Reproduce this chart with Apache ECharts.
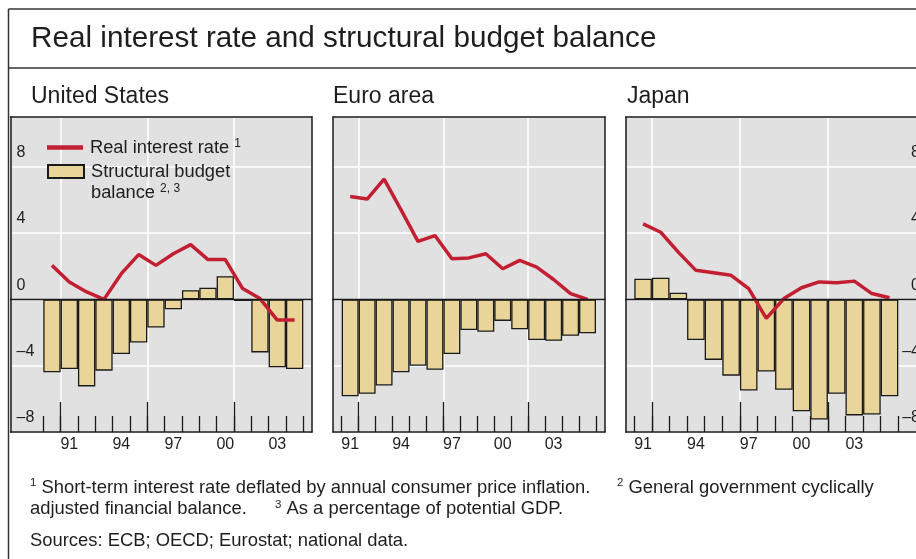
<!DOCTYPE html>
<html>
<head>
<meta charset="utf-8">
<script src="https://cdn.jsdelivr.net/npm/echarts@6/dist/echarts.min.js"></script>
<style>
html,body{margin:0;padding:0;background:#fff;}
#c{width:916px;height:559px;}
</style>
</head>
<body>
<div id="c"></div>
<script>
// ---------- data ----------
const usYears   = [1990,1991,1992,1993,1994,1995,1996,1997,1998,1999,2000,2001,2002,2003,2004];
const usBudget  = [-4.4,-4.2,-5.25,-4.3,-3.3,-2.6,-1.7,-0.6,0.55,0.7,1.4,-0.1,-3.2,-4.1,-4.2];
const usRate    = [2.05,1.05,0.45,0.0,1.55,2.7,2.05,2.75,3.3,2.4,2.4,0.65,0.05,-1.25,-1.25];

const euYears   = [1991,1992,1993,1994,1995,1996,1997,1998,1999,2000,2001,2002,2003,2004,2005];
const euBudget  = [-5.85,-5.7,-5.2,-4.4,-4.0,-4.25,-3.3,-1.85,-1.95,-1.3,-1.8,-2.45,-2.5,-2.2,-2.05];
const euRate    = [6.2,6.05,7.25,5.4,3.5,3.85,2.45,2.5,2.75,1.85,2.35,1.95,1.2,0.35,0.0];

const jpYears   = [1991,1992,1993,1994,1995,1996,1997,1998,1999,2000,2001,2002,2003,2004,2005];
const jpBudget  = [1.25,1.3,0.4,-2.45,-3.65,-4.6,-5.5,-4.35,-5.45,-6.75,-7.25,-5.7,-7.0,-6.95,-5.85];
const jpRate    = [4.55,4.05,2.85,1.75,1.6,1.45,0.65,-1.15,0.05,0.7,1.05,1.0,1.1,0.35,0.1];

const xLabelYears = [1991,1994,1997,2000,2003];
const yTickValues = [-8,-4,0,4,8];
const yMin = -8, yMax = 11;

const seriesNames = ['Real interest rate', 'Structural budget balance'];
const panelTitles = ['United States', 'Euro area', 'Japan'];

// ---------- layout / style ----------
const FONT = 'Liberation Sans, Arial, Helvetica, sans-serif';
const TXT = '#1e1e1e';
const BG = '#e1e1e1';
const BAR = '#e9d49a';
const RED = '#c21f32';
const INK = '#1a1a1a';
const W = 916, H = 559, plotTop = 117, plotBottom = 432;
const majorFrom = 1, majorStep = 5, majorCount = 2; // long ticks/gridlines at band boundaries 1, 6, 11

const panels = [
  {years: usYears, budget: usBudget, rate: usRate, plotL: 10.5, plotR: 312, dataL: 43.3, dataR: 303.3, labels: 'left',  titleX: 31},
  {years: euYears, budget: euBudget, rate: euRate, plotL: 333,  plotR: 605, dataL: 341.7, dataR: 596,  labels: null,    titleX: 333},
  {years: jpYears, budget: jpBudget, rate: jpRate, plotL: 625.7, plotR: 926, dataL: 634.3, dataR: 898.3, labels: 'right', titleX: 627}
];

const grid = [], xAxis = [], yAxis = [], series = [];
const fmtY = v => yTickValues.indexOf(v) >= 0 ? (v < 0 ? '\u2013' + (-v) : String(v)) : '';
const hidden = () => ({axisLine: {show: false, onZero: false}, axisTick: {show: false}, axisLabel: {show: false}, splitLine: {show: false}});
const vBox = {top: plotTop, height: plotBottom - plotTop, outerBoundsMode: 'none', containLabel: false};

panels.forEach((p, i) => {
  const band = (p.dataR - p.dataL) / p.years.length;

  // frame grid
  const fg = grid.length;
  grid.push(Object.assign({left: p.plotL, width: p.plotR - p.plotL, show: true, backgroundColor: BG, borderWidth: 0}, vBox));
  // major-grid grid (spans from first to last major boundary)
  const mg = grid.length;
  grid.push(Object.assign({left: p.dataL + majorFrom * band, width: majorStep * majorCount * band, show: false}, vBox));
  // data grid
  const dg = grid.length;
  grid.push(Object.assign({left: p.dataL, width: p.dataR - p.dataL, show: false}, vBox));

  // vertical white gridlines
  xAxis.push(Object.assign(hidden(), {type: 'value', gridIndex: mg, position: 'bottom', min: 0, max: majorStep * majorCount, interval: majorStep, z: 0,
    splitLine: {show: true, showMinLine: true, showMaxLine: true, lineStyle: {color: '#ffffff', width: 1.5}}}));
  // long ticks
  xAxis.push(Object.assign(hidden(), {type: 'value', gridIndex: mg, position: 'bottom', min: 0, max: majorStep * majorCount, interval: majorStep, z: 1,
    axisTick: {show: true, inside: true, length: 30, lineStyle: {color: INK, width: 1.3}}}));
  yAxis.push({type: 'value', gridIndex: mg, min: yMin, max: yMax, show: false});

  // zero line
  xAxis.push(Object.assign(hidden(), {type: 'value', gridIndex: fg, position: 'bottom', min: 0, max: 1, z: 4,
    axisLine: {show: true, onZero: true, lineStyle: {color: INK, width: 1.3}}}));
  // frame top & bottom
  xAxis.push(Object.assign(hidden(), {type: 'value', gridIndex: fg, position: 'top', min: 0, max: 1, z: 5,
    axisLine: {show: true, onZero: false, lineStyle: {color: INK, width: 1.5}}}));
  xAxis.push(Object.assign(hidden(), {type: 'value', gridIndex: fg, position: 'bottom', min: 0, max: 1, z: 5,
    axisLine: {show: true, onZero: false, lineStyle: {color: INK, width: 1.5}}}));

  // horizontal gridlines + labels
  yAxis.push(Object.assign(hidden(), {type: 'value', gridIndex: fg, position: p.labels === 'right' ? 'right' : 'left',
    min: yMin, max: yMax, interval: 4, z: 0,
    splitLine: {show: true, lineStyle: {color: '#ffffff', width: 1.5}},
    axisLabel: {show: !!p.labels, inside: true, margin: 6, formatter: fmtY, color: TXT, fontFamily: FONT, fontSize: 16,
      lineHeight: 16, verticalAlign: 'bottom', padding: [0, 0, 6, 0]}}));
  // frame left & right
  yAxis.push(Object.assign(hidden(), {type: 'value', gridIndex: fg, position: 'left', min: yMin, max: yMax, z: 5,
    axisLine: {show: true, onZero: false, lineStyle: {color: INK, width: 1.5}}}));
  yAxis.push(Object.assign(hidden(), {type: 'value', gridIndex: fg, position: 'right', min: yMin, max: yMax, z: 5,
    axisLine: {show: true, onZero: false, lineStyle: {color: INK, width: 1.5}}}));

  // data axes
  const dx = xAxis.length;
  xAxis.push({type: 'category', gridIndex: dg, data: p.years, boundaryGap: true, z: 1, position: 'bottom',
    axisLine: {show: false, onZero: false},
    axisTick: {show: true, inside: true, length: 16, interval: 0, lineStyle: {color: INK, width: 1.3}},
    axisLabel: {show: true, interval: (idx, val) => xLabelYears.indexOf(Number(val)) >= 0,
      formatter: v => String(v).slice(-2), margin: 5, lineHeight: 16,
      color: TXT, fontFamily: FONT, fontSize: 16},
    splitLine: {show: false}});
  const dy = yAxis.length;
  yAxis.push({type: 'value', gridIndex: dg, min: yMin, max: yMax, show: false});

  series.push({name: seriesNames[1], type: 'bar', xAxisIndex: dx, yAxisIndex: dy, data: p.budget,
    barCategoryGap: '0%', z: 2,
    itemStyle: {color: BAR, borderColor: INK, borderWidth: 1.3}});
  series.push({name: seriesNames[0], type: 'line', xAxisIndex: dx, yAxisIndex: dy, data: p.rate,
    symbol: 'none', showSymbol: false, z: 3, lineStyle: {color: RED, width: 3.5}, itemStyle: {color: RED}});
});

const supRich = {s: {fontSize: 11.5, fontFamily: FONT, color: TXT, verticalAlign: 'top', lineHeight: 11}};
const titles = [
  {text: 'Real interest rate and structural budget balance', left: 31, top: 22, padding: 0,
   textStyle: {fontFamily: FONT, fontSize: 29.7, fontWeight: 'normal', color: TXT, lineHeight: 34}}
];
panels.forEach((p, i) => titles.push({text: panelTitles[i], left: p.titleX, top: 82.5, padding: 0,
  textStyle: {fontFamily: FONT, fontSize: 23, fontWeight: 'normal', color: TXT, lineHeight: 28}}));
const foot = (text, left, top) => ({text, left, top, padding: 0,
  textStyle: {fontFamily: FONT, fontSize: 18.4, fontWeight: 'normal', color: TXT, lineHeight: 21, rich: supRich}});
titles.push(foot('{s|1} Short-term interest rate deflated by annual consumer price inflation.', 30, 477));
titles.push(foot('{s|2} General government cyclically', 617, 477));
titles.push(foot('adjusted financial balance.', 30, 498.5));
titles.push(foot('{s|3} As a percentage of potential GDP.', 275, 498.5));
titles.push(foot('Sources: ECB; OECD; Eurostat; national data.', 30, 530.5));

const legRich = {s: {fontSize: 12, fontFamily: FONT, color: TXT, verticalAlign: 'top', lineHeight: 11, padding: [1, 0, 0, 0]}};
const legends = [
  {data: [{name: seriesNames[0], icon: 'rect'}], left: 47, top: 137, padding: 0, itemWidth: 36, itemHeight: 4.5,
   formatter: n => 'Real interest rate {s|1}', selectedMode: false,
   textStyle: {fontFamily: FONT, fontSize: 18.3, color: TXT, lineHeight: 21, rich: legRich, padding: [0, 0, 0, 2]}},
  {data: [{name: seriesNames[1], icon: 'rect'}], left: 47, top: 140, padding: 0, itemWidth: 36, itemHeight: 13,
   formatter: n => '\nStructural budget\nbalance {s|2, 3}', selectedMode: false,
   textStyle: {fontFamily: FONT, fontSize: 18.3, color: TXT, lineHeight: 21, rich: legRich, padding: [0, 0, 0, 2]}}
];

const frame = {type: 'group', silent: true, children: [
  {type: 'line', shape: {x1: 8.5, y1: 9, x2: W, y2: 9}, style: {stroke: '#333', lineWidth: 1.5}},
  {type: 'line', shape: {x1: 8.5, y1: 68, x2: W, y2: 68}, style: {stroke: '#333', lineWidth: 1.5}},
  {type: 'line', shape: {x1: 8.5, y1: 9, x2: 8.5, y2: H}, style: {stroke: '#333', lineWidth: 1.5}}
]};

const chart = echarts.init(document.getElementById('c'), null, {renderer: 'canvas'});
chart.setOption({
  backgroundColor: '#ffffff',
  animation: false,
  title: titles,
  legend: legends,
  grid, xAxis, yAxis, series,
  graphic: [frame]
});
</script>
</body>
</html>
